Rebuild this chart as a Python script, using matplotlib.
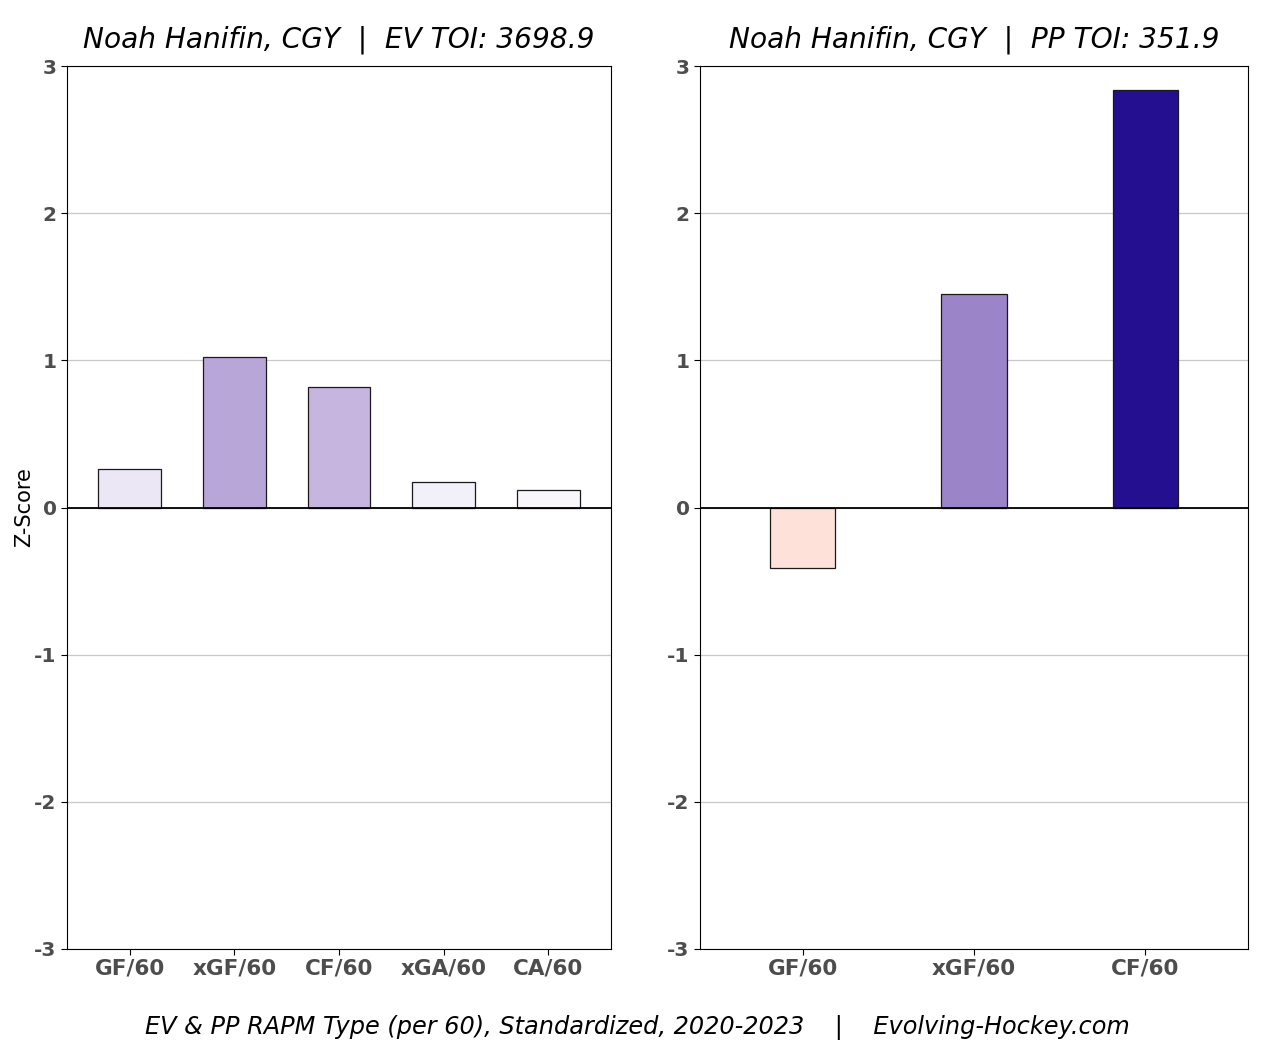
import matplotlib
matplotlib.use("Agg")
import matplotlib.pyplot as plt

plt.rcParams["axes.unicode_minus"] = False

# data
ev_labels = ["GF/60", "xGF/60", "CF/60", "xGA/60", "CA/60"]
ev_values = [0.26, 1.02, 0.82, 0.17, 0.12]
ev_colors = ["#ebe7f5", "#b9a6d9", "#c6b6df", "#f2f0f8", "#f8f6fb"]

pp_labels = ["GF/60", "xGF/60", "CF/60"]
pp_values = [-0.41, 1.45, 2.84]
pp_colors = ["#fee2d9", "#9c84c9", "#230f8f"]

ev_title = "Noah Hanifin, CGY  |  EV TOI: 3698.9"
pp_title = "Noah Hanifin, CGY  |  PP TOI: 351.9"
footer = "EV & PP RAPM Type (per 60), Standardized, 2020-2023    |    Evolving-Hockey.com"

W, H = 1275, 1050
fig, axes = plt.subplots(1, 2, figsize=(W / 100, H / 100), dpi=100)
# panel boxes in pixels: left, right edges; shared top/bottom
axes[0].set_position([67 / W, 101 / H, 544 / W, 883 / H])
axes[1].set_position([700 / W, 101 / H, 548 / W, 883 / H])


def draw_panel(ax, labels, values, colors, width, title):
    x = range(len(labels))
    ax.set_axisbelow(True)
    ax.grid(axis="y", color="#c8c8c8", linewidth=0.9)
    ax.bar(x, values, width=width, color=colors, edgecolor="#1a1a1a", linewidth=0.9)
    ax.axhline(0, color="black", linewidth=1.3)
    ax.set_ylim(-3, 3)
    ax.set_xlim(-0.6, len(labels) - 0.4)
    ax.set_xticks(list(x))
    ax.set_xticklabels(labels)
    ax.set_yticks([-3, -2, -1, 0, 1, 2, 3])
    ax.tick_params(axis="y", labelsize=14.5, labelcolor="#4d4d4d", length=4)
    ax.tick_params(axis="x", labelsize=15.5, labelcolor="#4d4d4d", length=4, pad=3)
    for t in ax.get_xticklabels() + ax.get_yticklabels():
        t.set_fontweight("bold")
    ax.set_title(title, fontsize=20.2, style="italic", pad=13.5)


draw_panel(axes[0], ev_labels, ev_values, ev_colors, 0.6, ev_title)
draw_panel(axes[1], pp_labels, pp_values, pp_colors, 0.38, pp_title)
axes[0].set_ylabel("Z-Score", fontsize=15, labelpad=0)

fig.text(0.5, 0.021, footer, ha="center", va="center", fontsize=17.25, style="italic")

fig.savefig("out.png", dpi=100)
